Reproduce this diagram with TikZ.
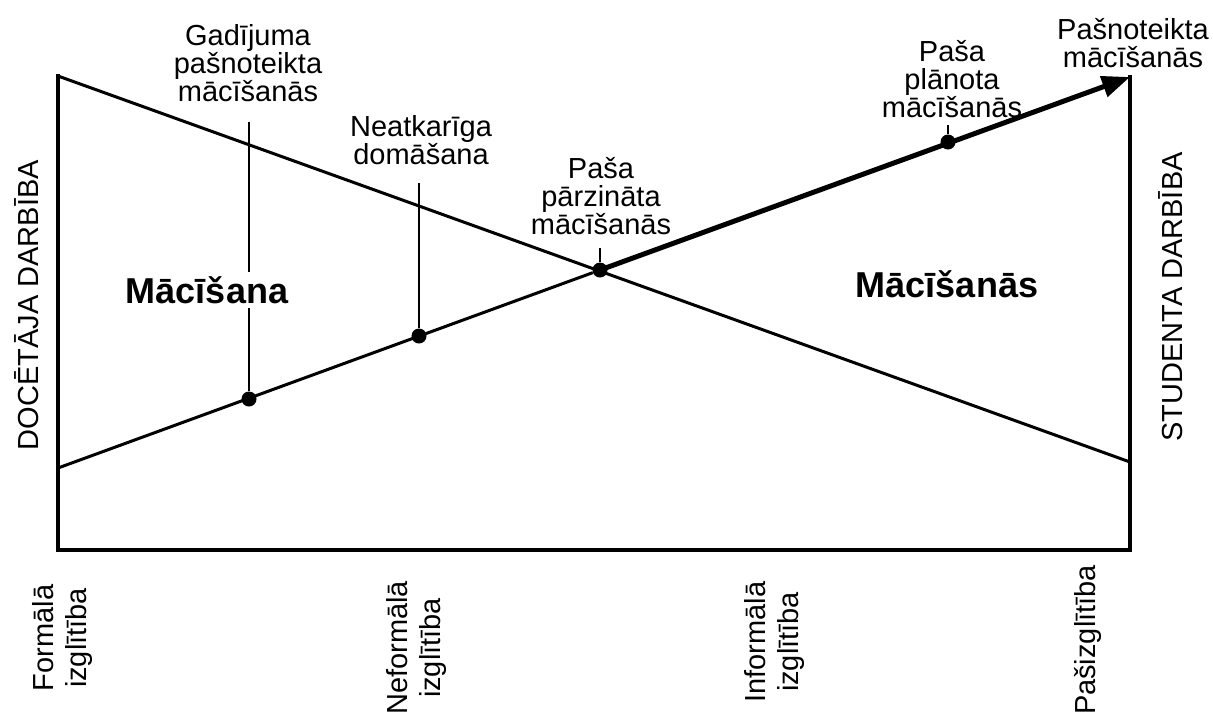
\documentclass[tikz,border=0pt]{standalone}
\usepackage{fontspec}
\setmainfont{Liberation Sans}
\usetikzlibrary{arrows.meta}
\begin{document}
\begin{tikzpicture}[x=1pt,y=-1pt,
  axis/.style={line width=3.4pt, line join=miter, line cap=rect},
  diag/.style={line width=3pt},
  strong/.style={line width=5pt, -{Triangle[length=28pt,width=21pt]}},
  tickline/.style={line width=2.2pt},
  dotnode/.style={circle, fill=black, inner sep=0pt, minimum size=15pt},
  lab/.style={font=\fontsize{29}{28}\selectfont, align=center, inner sep=0pt, text=black},
  vlab/.style={font=\fontsize{29}{33}\selectfont, align=center, inner sep=0pt, rotate=90, text=black},
  big/.style={font=\fontsize{36}{36}\selectfont\bfseries, fill=white, inner sep=4pt, text=black},
]
\useasboundingbox (0,0) rectangle (1213,716);
\fill[white] (0,0) rectangle (1213,716);

% frame corners
\coordinate (tl) at (58,76);
\coordinate (bl) at (58,550);
\coordinate (br) at (1130,550);
\coordinate (tr) at (1130,77);
\coordinate (le) at (58,468);
\coordinate (re) at (1130,462);

% axes
\draw[axis] (tl) -- (bl) -- (br) -- (tr);

% dots
\node[dotnode] (d1) at (249,399) {};
\node[dotnode] (d2) at (419,336) {};
\node[dotnode] (d3) at (600,270) {};
\node[dotnode] (d4) at (948,142) {};

% diagonals
\draw[diag] (tl) -- (re);
\draw[diag] (le) -- (d3);
\draw[strong] (d3.center) -- (tr);

% tick ends
\coordinate (t1) at (249,122);
\coordinate (t2) at (419,183);
\coordinate (t3) at (600,248);
\coordinate (t4) at (948,125);
\draw[tickline] (d1) -- (t1);
\draw[tickline] (d2) -- (t2);
\draw[tickline] (d3) -- (t3);
\draw[tickline] (d4) -- (t4);

% region labels
\node[big] (lm) at (207,290) {Mācīšana};
\node[big] (rm) at (947,284) {Mācīšanās};

% top labels
\node[lab] (g1) at (248,63) {Gadījuma\\pašnoteikta\\mācīšanās};
\node[lab] (g2) at (421,140) {Neatkarīga\\domāšana};
\node[lab] (g3) at (601,196) {Paša\\pārzināta\\mācīšanās};
\node[lab] (g4) at (952,79) {Paša\\plānota\\mācīšanās};
\node[lab] (g5) at (1133,43) {Pašnoteikta\\mācīšanās};

% side labels
\node[vlab] (ya) at (27,305) {DOCĒTĀJA DARBĪBA};
\node[vlab] (yb) at (1171,297) {STUDENTA DARBĪBA};

% bottom labels
\node[vlab] (x1) at (63,638) {Formālā\\izglītība};
\node[vlab] (x2) at (416,648) {Neformālā\\izglītība};
\node[vlab] (x3) at (774,642) {Informālā\\izglītība};
\node[vlab] (x4) at (1088,640) {Pašizglītība};
\end{tikzpicture}
\end{document}
